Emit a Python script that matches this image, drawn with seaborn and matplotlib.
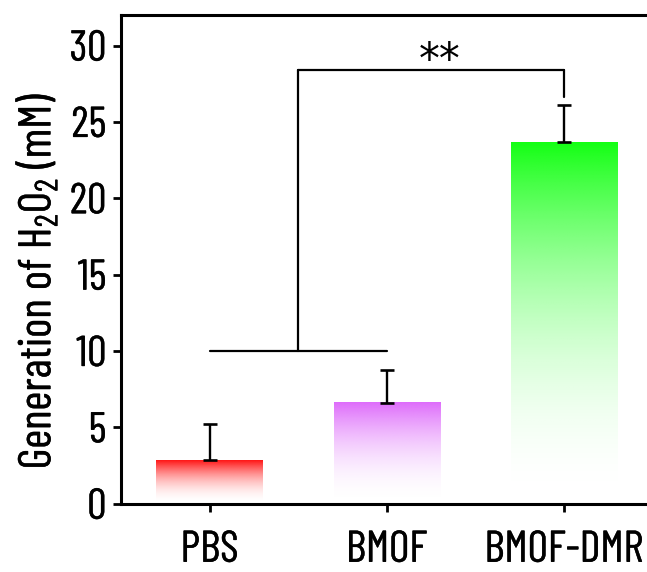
import numpy as np
import pandas as pd
import matplotlib
matplotlib.use("Agg")
import matplotlib.pyplot as plt
import matplotlib.patheffects as pe
import seaborn as sns
from matplotlib import font_manager as fm
from matplotlib.colors import to_rgb

# ---- data ----
categories = ["PBS", "BMOF", "BMOF-DMR"]
means = [2.85, 6.62, 23.69]
errors_up = [2.40, 2.11, 2.40]
top_colors = ["#ff1414", "#de6cfb", "#14ff14"]
yticks = [0, 5, 10, 15, 20, 25, 30]
# significance brackets: (x0, x1, level)
low_bracket = (0, 1, 10.0)
high_bracket_level = 28.4
high_bracket_drop = 26.6
sig_label = "**"

sns.set_theme(style="ticks")
names = {f.name for f in fm.fontManager.ttflist}
cands = ["Barlow Condensed", "Roboto Condensed", "Liberation Sans Narrow", "DejaVu Sans"]
family = [c for c in cands if c in names] + ["DejaVu Sans"]
plt.rcParams['font.family'] = family
plt.rcParams['mathtext.fontset'] = 'custom'
plt.rcParams['mathtext.rm'] = family[0]
plt.rcParams['mathtext.it'] = family[0]
plt.rcParams['mathtext.bf'] = family[0] + ":bold"

W, H = 647, 572
fig = plt.figure(figsize=(W / 100, H / 100), dpi=100)
ax_left, ax_right, ax_top, ax_bottom = 121, 652.5, 15, 503.7
ax = fig.add_axes([ax_left / W, (H - ax_bottom) / H, (ax_right - ax_left) / W, (ax_bottom - ax_top) / H])

df = pd.DataFrame({"group": categories, "value": means})
sns.barplot(data=df, x="group", y="value", order=categories, width=0.6,
            color="white", edgecolor="none", errorbar=None, ax=ax)

# gradient fills
for patch, col in zip(ax.patches, top_colors):
    x0, w, h = patch.get_x(), patch.get_width(), patch.get_height()
    n = 256
    t = np.linspace(0, 1, n)
    rgba = np.zeros((n, 1, 4))
    rgba[:, 0, :3] = to_rgb(col)
    rgba[:, 0, 3] = t ** 2.0
    ax.imshow(rgba, extent=[x0, x0 + w, 0, h], origin="lower", aspect="auto",
              zorder=1, interpolation="bilinear")
    patch.set_facecolor("none")

xpos = ax.get_xticks()
ax.errorbar(xpos, means, yerr=[np.zeros(len(means)), errors_up], fmt="none",
            ecolor="black", elinewidth=1.7, capsize=5, capthick=1.9, zorder=3)

lw = 1.6
bx0, bx1, blev = low_bracket
ax.plot([xpos[bx0], xpos[bx1]], [blev, blev], color="black", lw=lw, zorder=3)
mid = (xpos[bx0] + xpos[bx1]) / 2
ax.plot([mid, mid], [blev, high_bracket_level], color="black", lw=lw, zorder=3)
ax.plot([mid, xpos[2]], [high_bracket_level, high_bracket_level], color="black", lw=lw, zorder=3)
ax.plot([xpos[2], xpos[2]], [high_bracket_level, high_bracket_drop], color="black", lw=lw, zorder=3)
ax.text((mid + xpos[2]) / 2 + 0.05, 29.0, sig_label, ha="center", va="center",
        fontsize=30, family="DejaVu Sans", color="black")

ax.set_xlim(-0.5, 2.5)
ax.set_ylim(0, 32)
ax.set_yticks(yticks)
ax.set_xlabel("")
ax.set_ylabel("Generation of H$_2$O$_2$ (mM)", fontsize=33, color="black")
ax.yaxis.set_label_coords(-0.115, 0.456)

for s in ["left", "bottom", "top", "right"]:
    ax.spines[s].set_visible(True)
    ax.spines[s].set_linewidth(2.2)
    ax.spines[s].set_color("black")
ax.tick_params(axis="y", direction="out", length=5.5, width=2, labelsize=31, pad=5, colors="black")
ax.tick_params(axis="x", direction="out", length=5.5, width=2, labelsize=32, pad=14, colors="black")

thick = [pe.withStroke(linewidth=0.3, foreground="black")]
for t in ax.get_xticklabels() + ax.get_yticklabels() + [ax.yaxis.label]:
    t.set_path_effects(thick)

fig.savefig("out.png", dpi=100)
